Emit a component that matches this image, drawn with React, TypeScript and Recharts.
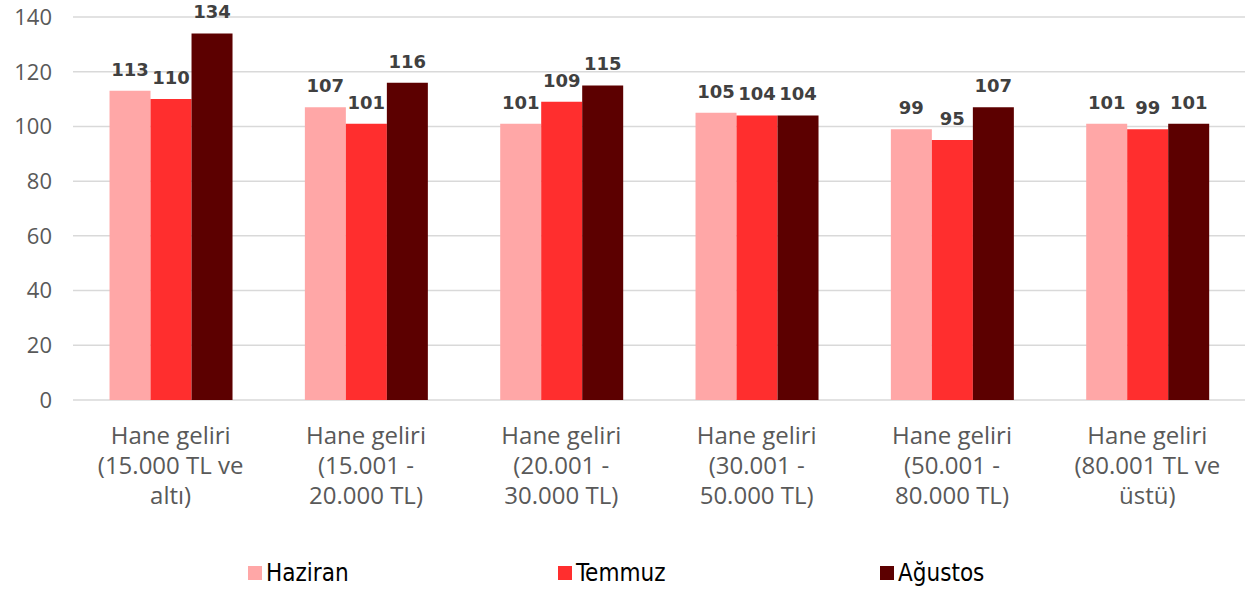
import React from "react";
import { BarChart, Bar, XAxis, YAxis, CartesianGrid, LabelList, Legend } from "recharts";

const categories = [
  "Hane geliri (15.000 TL ve altı)",
  "Hane geliri (15.001 - 20.000 TL)",
  "Hane geliri (20.001 - 30.000 TL)",
  "Hane geliri (30.001 - 50.000 TL)",
  "Hane geliri (50.001 - 80.000 TL)",
  "Hane geliri (80.001 TL ve üstü)",
];
const categoryLines = [
  ["Hane geliri", "(15.000 TL ve", "altı)"],
  ["Hane geliri", "(15.001 -", "20.000 TL)"],
  ["Hane geliri", "(20.001 -", "30.000 TL)"],
  ["Hane geliri", "(30.001 -", "50.000 TL)"],
  ["Hane geliri", "(50.001 -", "80.000 TL)"],
  ["Hane geliri", "(80.001 TL ve", "üstü)"],
];
const haziran = [113, 107, 101, 105, 99, 101];
const temmuz = [110, 101, 109, 104, 95, 99];
const agustos = [134, 116, 115, 104, 107, 101];
const yTicks = [0, 20, 40, 60, 80, 100, 120, 140];

const seriesNames = ["Haziran", "Temmuz", "Ağustos"];
const seriesColors = ["#FFA7A7", "#FF2E2E", "#5C0000"];

const data = categories.map((c, i) => ({
  name: c,
  idx: i,
  Haziran: haziran[i],
  Temmuz: temmuz[i],
  Ağustos: agustos[i],
}));

const AXIS_FONT = "'Open Sans', Roboto, sans-serif";

const XTick = (props: any) => {
  const { x, y, payload } = props;
  const lines = categoryLines[payload.index] || [String(payload.value)];
  return (
    <text x={x} y={y} textAnchor="middle" fill="#595959" fontSize={24} fontFamily={AXIS_FONT}>
      {lines.map((l: string, k: number) => (
        <tspan key={k} x={x} y={y + 36 + k * 30}>
          {l}
        </tspan>
      ))}
    </text>
  );
};

const LegendContent = () => {
  const lefts = [248, 558, 880];
  return (
    <div style={{ position: "relative", width: 1245, height: 79 }}>
      {seriesNames.map((n, i) => (
        <div
          key={n}
          style={{
            position: "absolute",
            left: lefts[i],
            top: 50,
            display: "flex",
            alignItems: "center",
            fontFamily: "'Liberation Sans Narrow', 'DejaVu Sans Condensed', sans-serif",
            fontSize: 24,
            color: "#000",
            lineHeight: "26px",
          }}
        >
          <span style={{ display: "inline-block", width: 14, height: 14, background: seriesColors[i], marginRight: 4 }} />
          {n}
        </div>
      ))}
    </div>
  );
};

export default function App() {
  return (
    <div style={{ position: "absolute", left: 0, top: 0 }}>
      <BarChart
        width={1245}
        height={589}
        data={data}
        margin={{ top: 17, right: 0, left: 0, bottom: 0 }}
        barGap={0}
        barCategoryGap="18.7%"
      >
        <CartesianGrid vertical={false} stroke="#D9D9D9" strokeWidth={1.5} />
        <XAxis dataKey="name" axisLine={false} tickLine={false} height={110} interval={0} tick={<XTick />} />
        <YAxis
          width={73}
          domain={[0, 140]}
          ticks={yTicks}
          axisLine={false}
          tickLine={false}
          tickMargin={15}
          tick={{ fill: "#595959", fontSize: 22, fontFamily: AXIS_FONT }}
        />
        <Legend verticalAlign="bottom" content={<LegendContent />} />
        {seriesNames.map((n, i) => (
          <Bar key={n} dataKey={n} fill={seriesColors[i]} isAnimationActive={false}>
            <LabelList
              dataKey={n}
              position="top"
              offset={15}
              fill="#404040"
              fontSize={18}
              fontWeight="bold"
              fontFamily="'DejaVu Sans', sans-serif"
            />
          </Bar>
        ))}
      </BarChart>
    </div>
  );
}
